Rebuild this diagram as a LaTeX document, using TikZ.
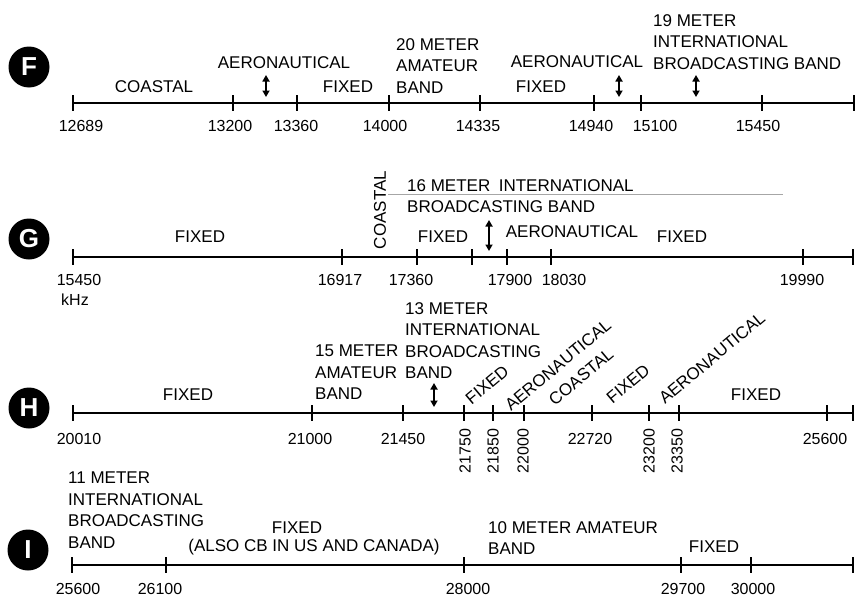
\documentclass[tikz,border=0pt]{standalone}
\usepackage{fontspec}
\setmainfont{Liberation Sans}
\usetikzlibrary{arrows.meta}

\begin{document}
\begin{tikzpicture}[x=1pt, y=-1pt,
	lbl/.style={inner sep=0pt, font=\fontsize{17}{21.5}\selectfont},
	num/.style={inner sep=0pt, font=\fontsize{16}{20}\selectfont},
	block/.style={lbl, align=left, anchor=north west},
	axis/.style={line width=1.3pt},
	tickmark/.style={line width=1.3pt},
	updown/.style={line width=1.7pt, {Triangle[width=7pt,length=6.5pt]}-{Triangle[width=7pt,length=6.5pt]}},
	band/.style={circle, fill=black, text=white, minimum size=41pt, inner sep=0pt, font=\fontsize{26}{26}\selectfont\bfseries}]
	\useasboundingbox (0,0) rectangle (856,597);
	
	% F
	\node[band] (F) at (29,67) {F};
	\coordinate (fL) at (73,103);
	\coordinate (fR) at (854,103);
	\draw[axis] (fL) -- (fR);
	\foreach \t/\l/\n in {73/81/12689, 233/230/13200, 297/296/13360, 389/385/14000, 480/478/14335, 594/591/14940, 641/655/15100, 762/758/15450}{
		\draw[tickmark] (\t,95) -- (\t,111);
		\node[num] (f\n) at (\l,126) {\n};
	}
	\draw[tickmark] (854,95) -- (854,111);
	\node[lbl] (fCoastal) at (154,87) {COASTAL};
	\node[lbl] (fAero1) at (284,63) {AERONAUTICAL};
	\node[lbl] (fFixed1) at (348,87) {FIXED};
	\node[block] (f20m) at (396,38) {20 METER\\AMATEUR\\BAND};
	\node[lbl] (fAero2) at (577,62) {AERONAUTICAL};
	\node[lbl] (fFixed2) at (541,87) {FIXED};
	\node[block] (f19m) at (653,14) {19 METER\\INTERNATIONAL\\BROADCASTING BAND};
	\foreach \x [count=\i] in {266,619,696}{
		\coordinate (fup\i) at (\x,75);
		\coordinate (fdn\i) at (\x,97);
		\draw[updown] (fup\i) -- (fdn\i);
	}
	
	% G
	\node[band] (G) at (29,239) {G};
	\coordinate (gL) at (73,257);
	\coordinate (gR) at (853,257);
	\draw[axis] (gL) -- (gR);
	\foreach \t/\l/\n in {73/79/15450, 342/340/16917, 417/411/17360, 507/510/17900, 551/564/18030, 803/802/19990}{
		\draw[tickmark] (\t,249) -- (\t,265);
		\node[num] (g\n) at (\l,280) {\n};
	}
	\foreach \t in {472,853}{\draw[tickmark] (\t,249) -- (\t,265);}
	\node[num] (kHz) at (75,300) {kHz};
	\node[lbl] (gFixed1) at (200,237) {FIXED};
	\node[lbl, rotate=90] (gCoastal) at (380,210) {COASTAL};
	\node[block] (g16m) at (407,179) {16 METER\enspace INTERNATIONAL\\BROADCASTING BAND};
	\coordinate (gsL) at (388,194);
	\coordinate (gsR) at (783,194);
	\draw[gray!70, line width=0.6pt] (gsL) -- (gsR);
	\node[lbl] (gFixed2) at (443,237) {FIXED};
	\coordinate (gup) at (489,220);
	\coordinate (gdn) at (489,251);
	\draw[updown] (gup) -- (gdn);
	\node[lbl] (gAero) at (572,232) {AERONAUTICAL};
	\node[lbl] (gFixed3) at (682,237) {FIXED};
	
	% H
	\node[band] (H) at (29,408) {H};
	\coordinate (hL) at (73,413);
	\coordinate (hR) at (853,413);
	\draw[axis] (hL) -- (hR);
	\foreach \t/\l/\n in {73/79/20010, 312/310/21000, 403/403/21450, 592/590/22720, 827/825/25600}{
		\draw[tickmark] (\t,405) -- (\t,421);
		\node[num] (h\n) at (\l,439) {\n};
	}
	\foreach \t/\l/\n in {464/465/21750, 493/493/21850, 524/523/22000, 649/649/23200, 679/677/23350}{
		\draw[tickmark] (\t,405) -- (\t,421);
		\node[num, rotate=90] (h\n) at (\l,451) {\n};
	}
	\draw[tickmark] (853,405) -- (853,421);
	\node[lbl] (hFixed1) at (188,395) {FIXED};
	\node[block] (h15m) at (315,345) {15 METER\\AMATEUR\\BAND};
	\node[block] (h13m) at (405,302) {13 METER\\INTERNATIONAL\\BROADCASTING\\BAND};
	\coordinate (hup) at (434,383);
	\coordinate (hdn) at (434,407);
	\draw[updown] (hup) -- (hdn);
	\node[lbl, rotate=40] (hFixed2) at (487,385) {FIXED};
	\node[lbl, rotate=40] (hAero1) at (558,365) {AERONAUTICAL};
	\node[lbl, rotate=40] (hCoastal) at (581,377) {COASTAL};
	\node[lbl, rotate=40] (hFixed3) at (628,384) {FIXED};
	\node[lbl, rotate=40] (hAero2) at (712,358) {AERONAUTICAL};
	\node[lbl] (hFixed4) at (756,395) {FIXED};
	
	% I
	\node[band] (I) at (28,550) {I};
	\coordinate (iL) at (72,565);
	\coordinate (iR) at (853,565);
	\draw[axis] (iL) -- (iR);
	\foreach \t/\l/\n in {72/78/25600, 166/160/26100, 464/468/28000, 681/683/29700, 751/753/30000}{
		\draw[tickmark] (\t,557) -- (\t,573);
		\node[num] (i\n) at (\l,589) {\n};
	}
	\draw[tickmark] (853,557) -- (853,573);
	\node[block] (i11m) at (68,472) {11 METER\\INTERNATIONAL\\BROADCASTING\\BAND};
	\node[lbl] (iFixed1) at (297,528) {FIXED};
	\node[lbl] (iCB) at (314,547) {(ALSO CB IN US AND CANADA)};
	\node[block] (i10m) at (488,521) {10 METER AMATEUR\\BAND};
	\node[lbl] (iFixed2) at (714,547) {FIXED};
\end{tikzpicture}
\end{document}
